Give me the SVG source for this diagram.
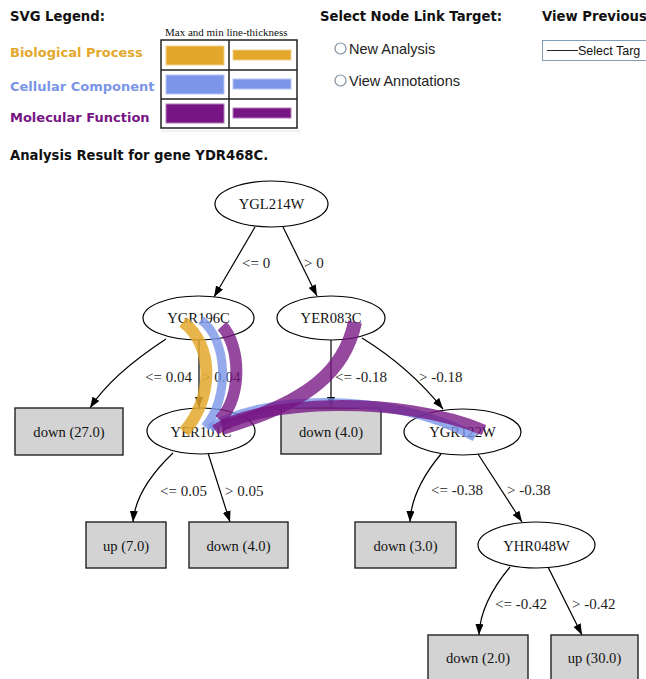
<svg xmlns="http://www.w3.org/2000/svg" width="646" height="679" viewBox="0 0 646 679">
  <style>
    .hdr { font-family: "DejaVu Sans", Verdana, sans-serif; font-weight: bold; font-size: 13.2px; fill: #111; }
    .leg { font-family: "DejaVu Sans", Verdana, sans-serif; font-weight: bold; font-size: 13px; }
    .ui { font-family: "Liberation Sans", Arial, sans-serif; font-size: 14.5px; fill: #222; }
    .node ellipse { fill: #fff; stroke: #000; stroke-width: 1.2; }
    .node rect { fill: #d3d3d3; stroke: #222; stroke-width: 1.4; }
    .node text { font-family: "Liberation Serif", "Times New Roman", serif; font-size: 14.6px; text-anchor: middle; fill: #111; }
    .edge path { fill: none; stroke: #000; stroke-width: 1.2; marker-end: url(#arrow); }
    .elabel { font-family: "Liberation Serif", "Times New Roman", serif; font-size: 15px; fill: #222; }
    .link { fill: none; stroke-linecap: butt; }
    .bp { stroke: #e3a82b; stroke-opacity: 0.85; }
    .cc { stroke: #7b95e8; stroke-opacity: 0.8; }
    .mf { stroke: #761583; stroke-opacity: 0.78; }
  </style>
  <defs>
    <marker id="arrow" markerUnits="userSpaceOnUse" markerWidth="11" markerHeight="8" refX="11" refY="4" orient="auto">
      <path d="M0,0 L11,4 L0,8 z" fill="#000"/>
    </marker>
  </defs>

  <!-- header: legend -->
  <g id="legend">
    <text class="hdr" x="10" y="21">SVG Legend:</text>
    <text class="leg" x="10" y="57" fill="#e3a82b">Biological Process</text>
    <text class="leg" x="10" y="91" fill="#7b95e8">Cellular Component</text>
    <text class="leg" x="10" y="122" fill="#761583">Molecular Function</text>
    <text x="165" y="36" font-family="Liberation Serif, Times New Roman, serif" font-size="11" fill="#111">Max and min line-thickness</text>
    <rect x="161" y="40" width="136" height="88" fill="#fff" stroke="#222" stroke-width="1.5"/>
    <line x1="229" y1="40" x2="229" y2="128" stroke="#222" stroke-width="1.5"/>
    <line x1="161" y1="70" x2="297" y2="70" stroke="#222" stroke-width="1.5"/>
    <line x1="161" y1="99" x2="297" y2="99" stroke="#222" stroke-width="1.5"/>
    <line x1="161" y1="131" x2="300" y2="131" stroke="#e4e4e4" stroke-width="1"/>
    <rect x="166" y="46" width="58" height="19" fill="#e3a82b" stroke="#f0cf8a"/>
    <rect x="233" y="50" width="58" height="10" fill="#e3a82b" stroke="#f0cf8a"/>
    <rect x="166" y="75" width="58" height="19" fill="#7b95e8" stroke="#b5c4f3"/>
    <rect x="233" y="79" width="58" height="10" fill="#7b95e8" stroke="#b5c4f3"/>
    <rect x="166" y="104" width="58" height="19" fill="#761583" stroke="#b27cbb"/>
    <rect x="233" y="108" width="58" height="10" fill="#761583" stroke="#b27cbb"/>
    <text class="hdr" x="10" y="160">Analysis Result for gene YDR468C.</text>
  </g>

  <!-- header: link target controls -->
  <g id="controls">
    <text class="hdr" x="320" y="21">Select Node Link Target:</text>
    <circle cx="340.5" cy="48.5" r="5.5" fill="#fff" stroke="#7f8f9f" stroke-width="1.2"/>
    <text class="ui" x="349" y="54">New Analysis</text>
    <circle cx="340.5" cy="80.5" r="5.5" fill="#fff" stroke="#7f8f9f" stroke-width="1.2"/>
    <text class="ui" x="349" y="86">View Annotations</text>
    <text class="hdr" x="542" y="21">View Previous</text>
    <rect x="542.5" y="40.5" width="110" height="20" fill="#fff" stroke="#7f9db9" stroke-width="1"/>
    <line x1="547" y1="50.5" x2="578" y2="50.5" stroke="#222" stroke-width="1"/>
    <text x="578" y="55" font-family="Liberation Sans, Arial, sans-serif" font-size="12.5" fill="#111">Select Targ</text>
  </g>

  <!-- decision tree edges -->
  <g id="edges">
    <g class="edge">
      <path d="M255,227 L214,297"/>
      <path d="M283,227 L317,296"/>
      <path d="M166,339 C140,356 108,380 90,408"/>
      <path d="M199,340 L199,408"/>
      <path d="M331,340 L331,408"/>
      <path d="M362,338 C388,354 418,378 443,409"/>
      <path d="M173,453 C152,473 135,497 133,522"/>
      <path d="M208,453 L230,522"/>
      <path d="M441,454 C426,472 411,495 410,522"/>
      <path d="M478,454 L522,522"/>
      <path d="M510,567 C495,585 480,610 479,635"/>
      <path d="M548,567 L582,635"/>
    </g>
    <text class="elabel" x="242" y="268">&lt;= 0</text>
    <text class="elabel" x="304" y="268">&gt; 0</text>
    <text class="elabel" x="145" y="382">&lt;= 0.04</text>
    <text class="elabel" x="202" y="382">&gt; 0.04</text>
    <text class="elabel" x="335" y="382">&lt;= -0.18</text>
    <text class="elabel" x="419" y="382">&gt; -0.18</text>
    <text class="elabel" x="160" y="496">&lt;= 0.05</text>
    <text class="elabel" x="225" y="496">&gt; 0.05</text>
    <text class="elabel" x="431" y="495">&lt;= -0.38</text>
    <text class="elabel" x="507" y="495">&gt; -0.38</text>
    <text class="elabel" x="495" y="609">&lt;= -0.42</text>
    <text class="elabel" x="572" y="609">&gt; -0.42</text>
  </g>

  <!-- decision tree nodes -->
  <g id="YGL214W" class="node"><ellipse cx="271.5" cy="204" rx="56.5" ry="23"/><text x="271.5" y="209">YGL214W</text></g>
  <g id="YGR196C" class="node"><ellipse cx="198.5" cy="318" rx="55.5" ry="22"/><text x="198.5" y="323">YGR196C</text></g>
  <g id="YER083C" class="node"><ellipse cx="331" cy="318" rx="54" ry="22"/><text x="331" y="323">YER083C</text></g>
  <g id="leaf_down_27" class="node"><rect x="15" y="408" width="108" height="47"/><text x="69" y="437">down (27.0)</text></g>
  <g id="YER101C" class="node"><ellipse cx="201" cy="431" rx="54" ry="23"/><text x="201" y="437">YER101C</text></g>
  <g id="leaf_down_4a" class="node"><rect x="281" y="408" width="100" height="46"/><text x="331" y="437">down (4.0)</text></g>
  <g id="YGR122W" class="node"><ellipse cx="462.5" cy="432" rx="58.5" ry="23"/><text x="462.5" y="437">YGR122W</text></g>
  <g id="leaf_up_7" class="node"><rect x="86" y="522" width="80" height="46"/><text x="126" y="551">up (7.0)</text></g>
  <g id="leaf_down_4b" class="node"><rect x="189" y="522" width="99" height="46"/><text x="238.5" y="551">down (4.0)</text></g>
  <g id="leaf_down_3" class="node"><rect x="355" y="522" width="101" height="46"/><text x="405.5" y="551">down (3.0)</text></g>
  <g id="YHR048W" class="node"><ellipse cx="536.5" cy="545" rx="58.5" ry="23"/><text x="536.5" y="551">YHR048W</text></g>
  <g id="leaf_down_2" class="node"><rect x="428" y="635" width="100" height="50"/><text x="478" y="663">down (2.0)</text></g>
  <g id="leaf_up_30" class="node"><rect x="551" y="635" width="87" height="50"/><text x="594.5" y="663">up (30.0)</text></g>

  <!-- annotation links between genes, drawn translucent over the tree -->
  <g id="annotation-links">
    <path class="link bp" stroke-width="12" d="M183,322 C214,345 214,398 184,432"/>
    <path class="link cc" stroke-width="9" d="M201,320 C228,340 230,398 205,427"/>
    <path class="link cc" stroke-width="9" d="M210,428 C260,395 390,390 475,437"/>
    <path class="link mf" stroke-width="12" d="M222,326 C240,345 243,395 220,420"/>
    <path class="link mf" stroke-width="14" d="M355,322 C345,370 310,402 222,428"/>
    <path class="link mf" stroke-width="11" d="M215,430 C260,400 400,395 484,430"/>
  </g>
</svg>
